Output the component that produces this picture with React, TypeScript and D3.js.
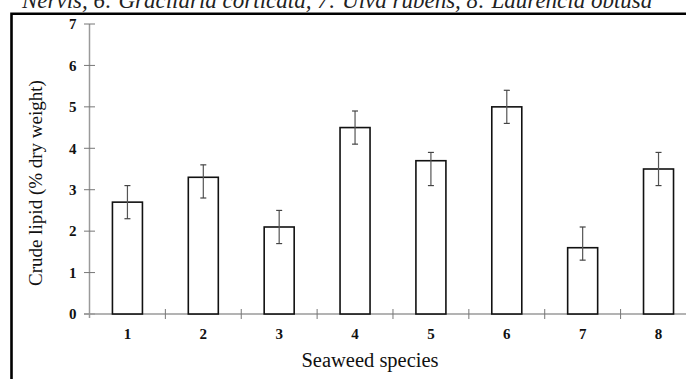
import React from "react";
import * as d3 from "d3";

const species = ["1", "2", "3", "4", "5", "6", "7", "8"];
const lipid = [2.7, 3.3, 2.1, 4.5, 3.7, 5.0, 1.6, 3.5];
const errUpper = [3.1, 3.6, 2.5, 4.9, 3.9, 5.4, 2.1, 3.9];
const errLower = [2.3, 2.8, 1.7, 4.1, 3.1, 4.6, 1.3, 3.1];
const yTicks = [0, 1, 2, 3, 4, 5, 6, 7];
const captionText = "Nervis, 6: Gracilaria corticata, 7: Ulva rubens, 8: Laurencia obtusa";

const W = 686;
const H = 379;
const FONT = "'Liberation Serif', 'Times New Roman', Times, serif";

export default function App() {
  const x = d3.scaleBand<string>().domain(species).range([89.5, 89.5 + 8 * 75.87]).paddingInner(0).paddingOuter(0);
  const y = d3.scaleLinear().domain([0, 7]).range([314, 24]);
  const barW = 30;
  const axisColor = "#9a9a9a";

  return (
    <svg width={W} height={H} style={{ position: "absolute", left: 0, top: 0, background: "#fff" }} fontFamily={FONT}>
      <rect x={0} y={0} width={W} height={H} fill="#fff" />
      <text x={22} y={8} fontSize={23} fontStyle="italic" fill="#222">{captionText}</text>
      {/* frame */}
      <path d={`M11.5,${H + 5} V13.8 H${W + 5}`} fill="none" stroke="#000" strokeWidth={2.6} />

      {/* y axis */}
      <line x1={89.5} x2={89.5} y1={y(7)} y2={318} stroke={axisColor} strokeWidth={1.5} />
      {yTicks.map((t) => (
        <g key={t}>
          <line x1={84} x2={95} y1={y(t)} y2={y(t)} stroke="#777" strokeWidth={1} />
          <text x={76.5} y={y(t)} dy="0.35em" textAnchor="end" fontSize={15} fontWeight="bold" fill="#111">{t}</text>
        </g>
      ))}

      {/* x axis */}
      <line x1={84} x2={W} y1={y(0)} y2={y(0)} stroke={axisColor} strokeWidth={1.5} />
      {species.slice(1).map((s) => (
        <line key={s} x1={x(s)!} x2={x(s)!} y1={309} y2={319} stroke="#777" strokeWidth={1} />
      ))}
      {species.map((s) => (
        <text key={s} x={x(s)! + x.bandwidth() / 2} y={339} textAnchor="middle" fontSize={15} fontWeight="bold" fill="#111">{s}</text>
      ))}

      {/* bars */}
      {species.map((s, i) => {
        const cx = x(s)! + x.bandwidth() / 2;
        return (
          <g key={s}>
            <rect x={cx - barW / 2} y={y(lipid[i])} width={barW} height={y(0) - y(lipid[i])} fill="#fff" stroke="#111" strokeWidth={1.6} />
            <line x1={cx} x2={cx} y1={y(errUpper[i])} y2={y(errLower[i])} stroke="#555" strokeWidth={1.2} />
            <line x1={cx - 3} x2={cx + 3} y1={y(errUpper[i])} y2={y(errUpper[i])} stroke="#444" strokeWidth={1.2} />
            <line x1={cx - 3} x2={cx + 3} y1={y(errLower[i])} y2={y(errLower[i])} stroke="#444" strokeWidth={1.2} />
          </g>
        );
      })}

      {/* axis titles */}
      <text x={370} y={367} textAnchor="middle" fontSize={20.5} fill="#111">Seaweed species</text>
      <text transform={`translate(42,183) rotate(-90)`} textAnchor="middle" fontSize={19} fill="#111">Crude lipid (% dry weight)</text>
    </svg>
  );
}
